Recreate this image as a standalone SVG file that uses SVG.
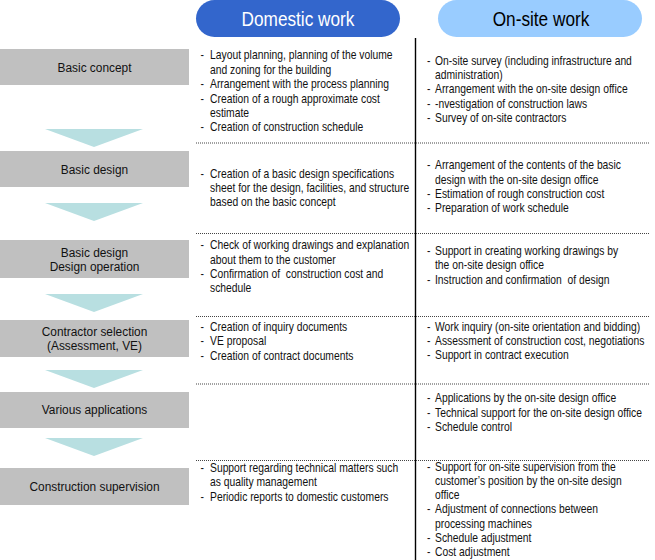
<svg xmlns="http://www.w3.org/2000/svg" width="655" height="560" viewBox="0 0 655 560">
<style>
  .hdr{font-family:"Liberation Sans",Arial,sans-serif;font-size:21px;text-anchor:middle}
  .lbl{font-family:"Liberation Sans",Arial,sans-serif;font-size:13.5px;fill:#111;text-anchor:middle}
  .txt{font-family:"Liberation Sans",Arial,sans-serif;font-size:12.6px;fill:#111;white-space:pre}
  .box{fill:#c0c0c0}
  .arr{fill:#b8dfe1}
  .dot{stroke:#444;stroke-width:1;stroke-dasharray:1 1;fill:none}
  .vline{stroke:#000;stroke-width:1.4;fill:none}
</style>

<g id="header-domestic">
  <rect x="196" y="0" width="204" height="37" rx="18.5" fill="#3366cc"/>
  <g transform="translate(298,0) scale(0.82,1)"><text class="hdr" x="0" y="26" fill="#ffffff">Domestic work</text></g>
</g>
<g id="header-onsite">
  <rect x="438" y="0" width="204" height="37" rx="18.5" fill="#99ccff"/>
  <g transform="translate(541,0) scale(0.82,1)"><text class="hdr" x="0" y="26" fill="#000000">On-site work</text></g>
</g>

<g id="dividers">
  <line class="vline" x1="415.5" y1="38" x2="415.5" y2="560"/>
  <line class="dot" x1="196" y1="143" x2="650" y2="143"/>
  <line class="dot" x1="196" y1="233.5" x2="650" y2="233.5"/>
  <line class="dot" x1="196" y1="316.5" x2="650" y2="316.5"/>
  <line class="dot" x1="196" y1="384" x2="650" y2="384"/>
  <line class="dot" x1="196" y1="460.5" x2="650" y2="460.5"/>
</g>

<g id="connectors">
  <polygon class="arr" points="45,129 143,129 94,147"/>
  <polygon class="arr" points="45,203 143,203 94,221"/>
  <polygon class="arr" points="45,294 143,294 94,312"/>
  <polygon class="arr" points="45,370 143,370 94,388"/>
  <polygon class="arr" points="45,438 143,438 94,456"/>
</g>

<g id="stage-basic-concept">
  <rect class="box" x="0" y="49" width="189" height="36"/>
  <g transform="translate(94.5,0) scale(0.88,1)"><text class="lbl" x="0" y="72">Basic concept</text></g>
</g>
<g id="stage-basic-design">
  <rect class="box" x="0" y="151" width="189" height="36"/>
  <g transform="translate(94.5,0) scale(0.88,1)"><text class="lbl" x="0" y="174">Basic design</text></g>
</g>
<g id="stage-design-operation">
  <rect class="box" x="0" y="240" width="189" height="38"/>
  <g transform="translate(94.5,0) scale(0.88,1)">
    <text class="lbl" x="0" y="257">Basic design</text>
    <text class="lbl" x="0" y="271">Design operation</text>
  </g>
</g>
<g id="stage-contractor-selection">
  <rect class="box" x="0" y="320" width="189" height="37"/>
  <g transform="translate(94.5,0) scale(0.88,1)">
    <text class="lbl" x="0" y="336">Contractor selection</text>
    <text class="lbl" x="0" y="350">(Assessment, VE)</text>
  </g>
</g>
<g id="stage-various-applications">
  <rect class="box" x="0" y="392" width="189" height="36"/>
  <g transform="translate(94.5,0) scale(0.88,1)"><text class="lbl" x="0" y="414">Various applications</text></g>
</g>
<g id="stage-construction-supervision">
  <rect class="box" x="0" y="468" width="189" height="37"/>
  <g transform="translate(94.5,0) scale(0.88,1)"><text class="lbl" x="0" y="491">Construction supervision</text></g>
</g>

<g id="domestic-1" transform="translate(210,0) scale(0.82,1)">
  <text class="txt" x="-11.6" y="59.5">-</text><text class="txt" x="0" y="59.5">Layout planning, planning of the volume</text>
  <text class="txt" x="0" y="74">and zoning for the building</text>
  <text class="txt" x="-11.6" y="88">-</text><text class="txt" x="0" y="88">Arrangement with the process planning</text>
  <text class="txt" x="-11.6" y="103">-</text><text class="txt" x="0" y="103">Creation of a rough approximate cost</text>
  <text class="txt" x="0" y="117">estimate</text>
  <text class="txt" x="-11.6" y="131.5">-</text><text class="txt" x="0" y="131.5">Creation of construction schedule</text>
</g>
<g id="domestic-2" transform="translate(210,0) scale(0.82,1)">
  <text class="txt" x="-11.6" y="178">-</text><text class="txt" x="0" y="178">Creation of a basic design specifications</text>
  <text class="txt" x="0" y="192">sheet for the design, facilities, and structure</text>
  <text class="txt" x="0" y="206.5">based on the basic concept</text>
</g>
<g id="domestic-3" transform="translate(210,0) scale(0.82,1)">
  <text class="txt" x="-11.6" y="249.5">-</text><text class="txt" x="0" y="249.5">Check of working drawings and explanation</text>
  <text class="txt" x="0" y="264">about them to the customer</text>
  <text class="txt" x="-11.6" y="278">-</text><text class="txt" x="0" y="278">Confirmation of  construction cost and</text>
  <text class="txt" x="0" y="292.5">schedule</text>
</g>
<g id="domestic-4" transform="translate(210,0) scale(0.82,1)">
  <text class="txt" x="-11.6" y="331.5">-</text><text class="txt" x="0" y="331.5">Creation of inquiry documents</text>
  <text class="txt" x="-11.6" y="345.5">-</text><text class="txt" x="0" y="345.5">VE proposal</text>
  <text class="txt" x="-11.6" y="360">-</text><text class="txt" x="0" y="360">Creation of contract documents</text>
</g>
<g id="domestic-6" transform="translate(210,0) scale(0.82,1)">
  <text class="txt" x="-11.6" y="472.5">-</text><text class="txt" x="0" y="472.5">Support regarding technical matters such</text>
  <text class="txt" x="0" y="486.5">as quality management</text>
  <text class="txt" x="-11.6" y="501">-</text><text class="txt" x="0" y="501">Periodic reports to domestic customers</text>
</g>

<g id="onsite-1" transform="translate(435,0) scale(0.82,1)">
  <text class="txt" x="-9.8" y="65.5">-</text><text class="txt" x="0" y="65.5">On-site survey (including infrastructure and</text>
  <text class="txt" x="0" y="79.5">administration)</text>
  <text class="txt" x="-9.8" y="93.5">-</text><text class="txt" x="0" y="93.5">Arrangement with the on-site design office</text>
  <text class="txt" x="-9.8" y="108">-</text><text class="txt" x="0" y="108">-nvestigation of construction laws</text>
  <text class="txt" x="-9.8" y="122">-</text><text class="txt" x="0" y="122">Survey of on-site contractors</text>
</g>
<g id="onsite-2" transform="translate(435,0) scale(0.82,1)">
  <text class="txt" x="-9.8" y="169.5">-</text><text class="txt" x="0" y="169.5">Arrangement of the contents of the basic</text>
  <text class="txt" x="0" y="184">design with the on-site design office</text>
  <text class="txt" x="-9.8" y="198">-</text><text class="txt" x="0" y="198">Estimation of rough construction cost</text>
  <text class="txt" x="-9.8" y="212.5">-</text><text class="txt" x="0" y="212.5">Preparation of work schedule</text>
</g>
<g id="onsite-3" transform="translate(435,0) scale(0.82,1)">
  <text class="txt" x="-9.8" y="255.5">-</text><text class="txt" x="0" y="255.5">Support in creating working drawings by</text>
  <text class="txt" x="0" y="269.5">the on-site design office</text>
  <text class="txt" x="-9.8" y="284">-</text><text class="txt" x="0" y="284">Instruction and confirmation  of design</text>
</g>
<g id="onsite-4" transform="translate(435,0) scale(0.82,1)">
  <text class="txt" x="-9.8" y="331">-</text><text class="txt" x="0" y="331">Work inquiry (on-site orientation and bidding)</text>
  <text class="txt" x="-9.8" y="345.5">-</text><text class="txt" x="0" y="345.5">Assessment of construction cost, negotiations</text>
  <text class="txt" x="-9.8" y="359.5">-</text><text class="txt" x="0" y="359.5">Support in contract execution</text>
</g>
<g id="onsite-5" transform="translate(435,0) scale(0.82,1)">
  <text class="txt" x="-9.8" y="402.5">-</text><text class="txt" x="0" y="402.5">Applications by the on-site design office</text>
  <text class="txt" x="-9.8" y="417">-</text><text class="txt" x="0" y="417">Technical support for the on-site design office</text>
  <text class="txt" x="-9.8" y="431">-</text><text class="txt" x="0" y="431">Schedule control</text>
</g>
<g id="onsite-6" transform="translate(435,0) scale(0.82,1)">
  <text class="txt" x="-9.8" y="471">-</text><text class="txt" x="0" y="471">Support for on-site supervision from the</text>
  <text class="txt" x="0" y="485">customer’s position by the on-site design</text>
  <text class="txt" x="0" y="499.5">office</text>
  <text class="txt" x="-9.8" y="513.5">-</text><text class="txt" x="0" y="513.5">Adjustment of connections between</text>
  <text class="txt" x="0" y="528">processing machines</text>
  <text class="txt" x="-9.8" y="542">-</text><text class="txt" x="0" y="542">Schedule adjustment</text>
  <text class="txt" x="-9.8" y="556.5">-</text><text class="txt" x="0" y="556.5">Cost adjustment</text>
</g>
</svg>
